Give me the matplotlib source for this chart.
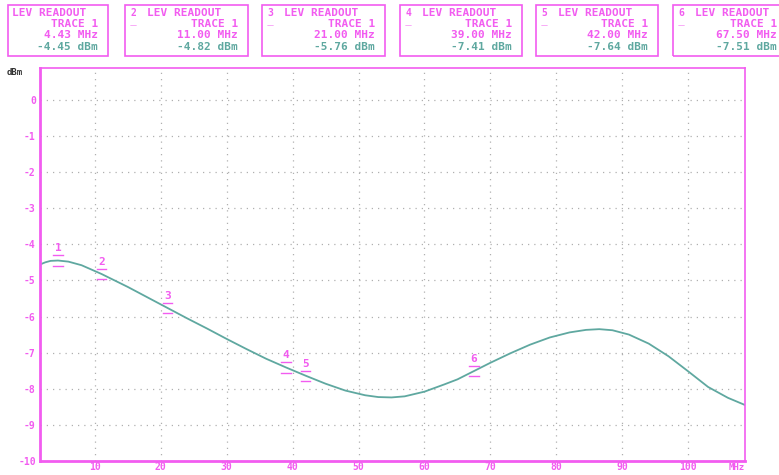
import numpy as np
import matplotlib.pyplot as plt
from matplotlib.patches import Rectangle

# trace (MHz, dBm)
freq = [1.7, 2.5, 3.3, 4.43, 6, 8, 11, 13, 15, 18, 21, 24, 27, 30, 33, 36, 39,
        42, 45, 48, 51, 53, 55, 57, 60, 63, 65, 67.5, 70, 73, 76, 79, 82, 84.5,
        86.5, 88.5, 91, 94, 97, 100, 103, 106, 108.6]
level = [-4.56, -4.50, -4.46, -4.45, -4.48, -4.58, -4.82, -5.0, -5.18, -5.47,
         -5.76, -6.05, -6.33, -6.62, -6.90, -7.17, -7.41, -7.64, -7.86, -8.05,
         -8.18, -8.23, -8.24, -8.21, -8.08, -7.88, -7.74, -7.51, -7.28, -7.02,
         -6.78, -6.58, -6.44, -6.37, -6.35, -6.38, -6.50, -6.75, -7.10, -7.52,
         -7.95, -8.25, -8.45]

# markers
mk_num = ['1', '2', '3', '4', '5', '6']
mk_freq = [4.43, 11.00, 21.00, 39.00, 42.00, 67.50]
mk_level = [-4.45, -4.82, -5.76, -7.41, -7.64, -7.51]

xticks = [10, 20, 30, 40, 50, 60, 70, 80, 90, 100]
yticks = [0, -1, -2, -3, -4, -5, -6, -7, -8, -9, -10]

pink = '#f25cf0'
teal = '#5fa8a0'
mono = 'DejaVu Sans Mono'

fig = plt.figure(figsize=(7.79, 4.75), dpi=100)
ax = fig.add_axes([40/779, 1-461/475, 705/779, 393/475])

ax.plot(freq, level, color=teal, lw=1.3)
ax.set_xlim(1.7, 108.6)
ax.set_ylim(-10, 0.88)

ax.set_xticks(xticks)
ax.set_xticklabels([str(t) for t in xticks])
ax.set_yticks(yticks)
ax.set_yticklabels(['0' if t == 0 else '-' + str(-t) for t in yticks])
ax.tick_params(colors=pink, labelsize=7, length=0)
ax.tick_params(axis='x', pad=1)
ax.tick_params(axis='y', pad=3)
for lab in ax.get_xticklabels() + ax.get_yticklabels():
    lab.set_fontfamily(mono)
    lab.set_fontweight('bold')
ax.grid(True, color='#b0b0b0', ls=(0, (1, 4)), lw=0.9)
for s in ax.spines.values():
    s.set_color(pink)
    s.set_linewidth(1.2)
ax.spines['left'].set_linewidth(2)
ax.spines['bottom'].set_linewidth(2)

ax.text(-0.025, 1.0, 'dBm', transform=ax.transAxes, ha='right', va='top',
        fontsize=6.5, color='#333333', family=mono, fontweight='bold')
ax.text(1.0, -0.006, 'MHz', transform=ax.transAxes, ha='right', va='top',
        fontsize=6.5, color=pink, family=mono, fontweight='bold')

# marker symbols
for n, f, l in zip(mk_num, mk_freq, mk_level):
    ax.text(f, l + 0.2, n, ha='center', va='bottom', fontsize=8, color=pink,
            family=mono, fontweight='bold')
    ax.plot([f - 0.7, f + 0.7], [l + 0.14, l + 0.14], color=pink, lw=1)
    ax.plot([f - 0.7, f + 0.7], [l - 0.14, l - 0.14], color=pink, lw=1)

# readout boxes on top
box_left = [8, 125, 262, 400, 536, 673]
box_right = [108, 248, 385, 522, 658, 800]
W, H = 779.0, 475.0
fs = 8
for i in range(6):
    x0, x1 = box_left[i], box_right[i]
    fig.patches.append(Rectangle((x0/W, 1-56/H), (x1-x0)/W, 51/H,
                                 transform=fig.transFigure, fill=False,
                                 ec=pink, lw=1.2, clip_on=False))
    xr = (min(x1, 787) - 10) / W
    if i == 0:
        xl = 12 / W
    else:
        xl = (x0 + 22) / W
        fig.text((x0 + 8) / W, 1-13/H, mk_num[i], fontsize=7, color=pink,
                 family=mono, fontweight='bold', ha='center', va='center')
        fig.text((x0 + 8) / W, 1-25/H, '\u2014', fontsize=5, color=pink,
                 ha='center', va='center')
    fig.text(xl, 1-13/H, 'LEV READOUT', fontsize=fs, color=pink,
             family=mono, fontweight='bold', va='center')
    fig.text(xr, 1-24/H, 'TRACE 1', fontsize=fs, color=pink,
             family=mono, fontweight='bold', va='center', ha='right')
    fig.text(xr, 1-35/H, '%.2f MHz' % mk_freq[i], fontsize=fs, color=pink,
             family=mono, fontweight='bold', va='center', ha='right')
    fig.text(xr, 1-47/H, '%.2f dBm' % mk_level[i], fontsize=fs, color=teal,
             family=mono, fontweight='bold', va='center', ha='right')

fig.savefig('out.png', dpi=100)
